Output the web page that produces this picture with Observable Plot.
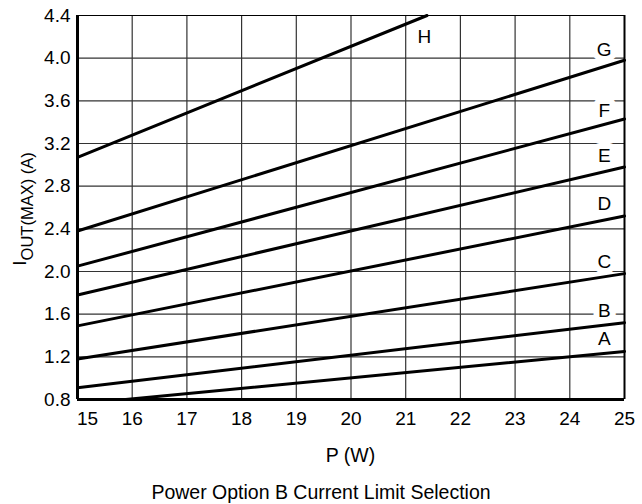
<!DOCTYPE html>
<html><head><meta charset="utf-8">
<script src="https://cdn.jsdelivr.net/npm/d3@7"></script>
<script src="https://cdn.jsdelivr.net/npm/@observablehq/plot@0.6"></script>
<style>body{margin:0;background:#fff} svg{display:block}</style>
</head><body><div id="chart"></div>
<script>
// Curve identifiers and end points
const curveNames = ["A","B","C","D","E","F","G","H"];
const startP = [15.88,15,15,15,15,15,15,15];
const startI = [0.8,0.91,1.18,1.49,1.78,2.05,2.38,3.07];
const endP = [25,25,25,25,25,25,25,21.39];
const endI = [1.25,1.52,1.98,2.52,2.98,3.43,3.98,4.4];
// Curve label anchor positions (data units)
const labelP = [24.63,24.63,24.63,24.63,24.63,24.63,24.63,21.34];
const labelI = [1.37,1.63,2.09,2.63,3.08,3.51,4.08,4.20];
// Ticks
const xTicks = [15,16,17,18,19,20,21,22,23,24,25];
const yTicks = [0.8,1.2,1.6,2.0,2.4,2.8,3.2,3.6,4.0,4.4];
const xLabel = "P (W)";
const yLabelMain = "I";
const yLabelSub = "OUT(MAX)";
const yLabelUnit = " (A)";
const captionText = "Power Option B Current Limit Selection";

const segs = curveNames.flatMap((n,i)=>[
  {curve:n, p:startP[i], i:startI[i]},
  {curve:n, p:endP[i], i:endI[i]}
]);
const labels = curveNames.map((n,i)=>({curve:n, p:labelP[i], i:labelI[i]}));

const W = 642, H = 504;
const mL = 77, mR = 18, mT = 15, mB = 105;
const FONT = "'Liberation Sans', Arial, sans-serif";

const chart = Plot.plot({
  width: W, height: H,
  marginLeft: mL, marginRight: mR, marginTop: mT, marginBottom: mB,
  style: {fontFamily: FONT, fontSize: "19px", color: "black", background: "white"},
  x: {domain: [15, 25]},
  y: {domain: [0.8, 4.4]},
  marks: [
    Plot.ruleX(xTicks.slice(1, -1), {stroke: "#333", strokeWidth: 1.2}),
    Plot.ruleY(yTicks.slice(1, -1), {stroke: "#333", strokeWidth: 1.2}),
    Plot.text(labels, {x: "p", y: "i", text: "curve", fontSize: 19, fill: "black", stroke: "white", strokeWidth: 12}),
    Plot.line(segs, {x: "p", y: "i", z: "curve", stroke: "black", strokeWidth: 3}),
    Plot.ruleX([15], {stroke: "black", strokeWidth: 3}),
    Plot.ruleX([25], {stroke: "black", strokeWidth: 2}),
    Plot.ruleY([0.8], {stroke: "black", strokeWidth: 3}),
    Plot.ruleY([4.4], {stroke: "black", strokeWidth: 1.2}),
    Plot.axisX(xTicks.slice(0, 1), {tickSize: 0, tickPadding: 12, fontSize: 19, dx: 10, label: null}),
    Plot.axisX(xTicks.slice(1), {tickSize: 0, tickPadding: 12, fontSize: 19, label: null}),
    Plot.axisY(yTicks, {tickSize: 0, tickPadding: 7, fontSize: 19, tickFormat: d3.format(".1f"), label: null})
  ]
});

const svg = d3.select(chart);
const cx = mL + (W - mL - mR) / 2;
const cy = mT + (H - mT - mB) / 2;
const yl = svg.append("text")
  .attr("transform", `translate(26,${cy + 2}) rotate(-90)`)
  .attr("text-anchor", "middle")
  .attr("font-family", FONT)
  .attr("fill", "black");
yl.append("tspan").attr("font-size", 19).text(yLabelMain);
yl.append("tspan").attr("font-size", 16.5).attr("dy", 7).text(yLabelSub);
yl.append("tspan").attr("font-size", 16.5).text(yLabelUnit);

svg.append("text")
  .attr("x", cx).attr("y", 462)
  .attr("text-anchor", "middle")
  .attr("font-family", FONT)
  .attr("font-size", 19.5)
  .attr("fill", "black")
  .text(xLabel);

svg.append("text")
  .attr("x", W / 2).attr("y", 499)
  .attr("text-anchor", "middle")
  .attr("font-family", FONT)
  .attr("font-size", 19.5)
  .attr("fill", "black")
  .text(captionText);

document.getElementById("chart").appendChild(chart);
</script>
</body></html>
